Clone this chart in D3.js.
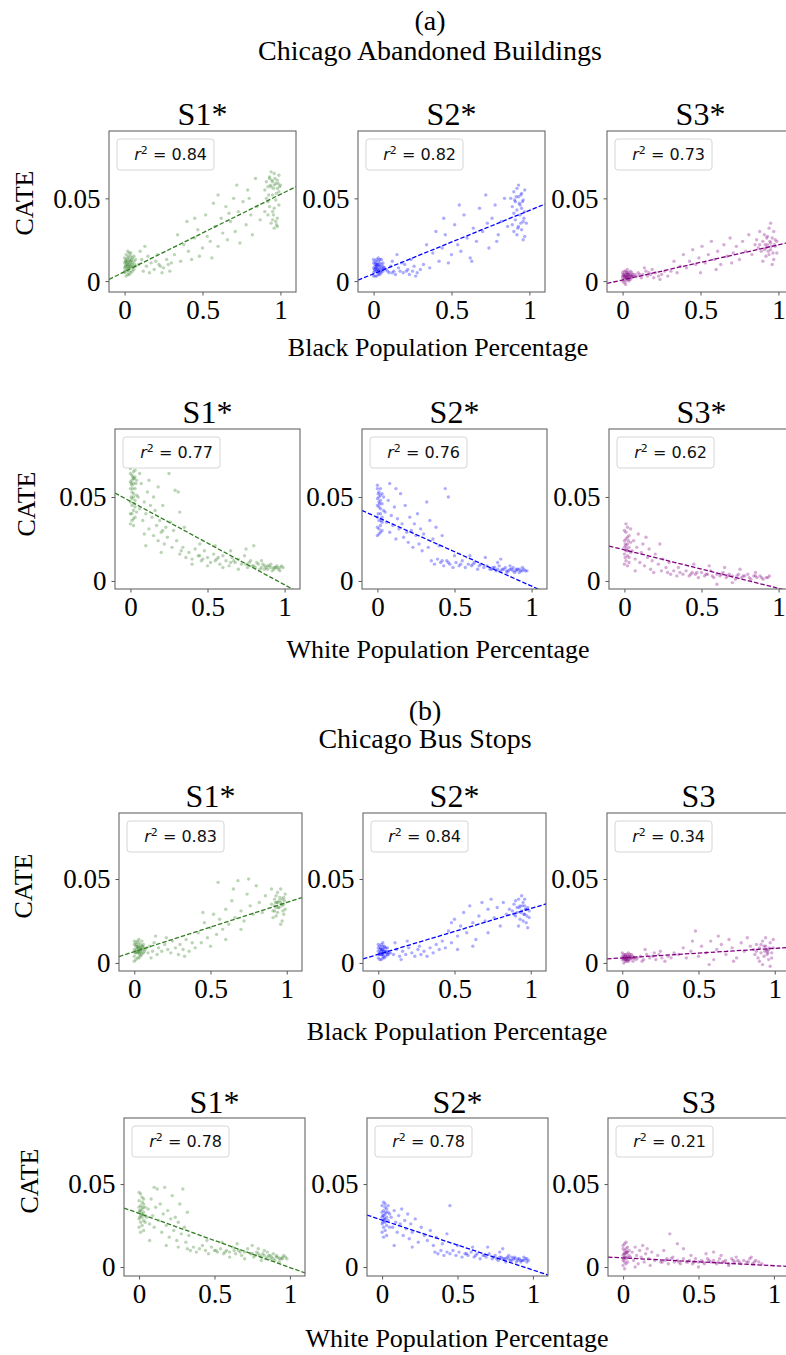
<!DOCTYPE html>
<html><head><meta charset="utf-8">
<script src="https://cdn.jsdelivr.net/npm/d3@7"></script>
<style>body{margin:0;background:#fff}svg{display:block}</style>
</head><body><svg id="c" width="786" height="1355"></svg>
<script>
// ---------------- DATA ----------------
const groupTitles = [["(a)", "Chicago Abandoned Buildings"], ["(b)", "Chicago Bus Stops"]];
const xLabels = ["Black Population Percentage", "White Population Percentage", "Black Population Percentage", "White Population Percentage"];
const yLabel = "CATE";
const panelTitles = [["S1*", "S2*", "S3*"], ["S1*", "S2*", "S3*"], ["S1*", "S2*", "S3"], ["S1*", "S2*", "S3"]];
const r2Values = [["0.84", "0.82", "0.73"], ["0.77", "0.76", "0.62"], ["0.83", "0.84", "0.34"], ["0.78", "0.78", "0.21"]];
const xTicks = [0, 0.5, 1];
const xTickLabels = ["0", "0.5", "1"];
const yTicks = [0, 0.05];
const yTickLabels = ["0", "0.05"];
// fitted lines [slope, intercept]
const fitLines = [
  [[0.0467, 0.0057], [0.0383, 0.0044], [0.0212, 0.0007]],
  [[-0.0497, 0.0474], [-0.041, 0.0379], [-0.0229, 0.0185]],
  [[0.0293, 0.0067], [0.0273, 0.0051], [0.0057, 0.003]],
  [[-0.0326, 0.0323], [-0.0301, 0.0283], [-0.0047, 0.0055]]
];
const seriesColors = ["#2f7d20", "#0000ff", "#800080"];

// Abandoned buildings, black %
const abBlackS1 = [[.01,.009],[.02,.012],[.00,.006],[.03,.010],[.04,.015],[.01,.016],[.02,.004],[.05,.008],[.03,.013],[.00,.011],[.06,.012],[.02,.007],[.04,.005],[.01,.013],[.03,.017],[.05,.011],[.00,.008],[.02,.010],[.07,.009],[.04,.012],[.01,.003],[.03,.008],[.06,.015],[.02,.014],[.00,.014],[.05,.006],[.03,.004],[.01,.010],[.04,.009],[.02,.018],[.06,.007],[.00,.005],[.03,.011],[.05,.014],[.01,.007],[.04,.017],[.02,.009],[.07,.013],[.03,.006],[.01,.012],
[.015,.011],[.025,.008],[.035,.012],[.045,.010],[.005,.009],[.055,.009],[.035,.009],[.015,.006],[.025,.015],[.045,.013],[.065,.010],[.005,.012],
[.09,.010],[.11,.013],[.12,.006],[.14,.009],[.15,.015],[.17,.011],[.19,.007],[.2,.012],[.22,.010],[.24,.005],[.25,.008],[.27,.013],[.29,.006],[.1,.018],[.13,.021],[.16,.005],[.21,.016],[.23,.009],[.28,.010],[.3,.011],
[.32,.016],[.34,.028],[.36,.012],[.38,.022],[.4,.036],[.41,.018],[.43,.013],[.45,.026],[.47,.031],[.48,.015],[.5,.020],[.52,.040],[.53,.027],[.55,.024],[.57,.047],[.58,.033],[.6,.021],[.62,.038],[.63,.029],[.65,.045],[.66,.025],[.68,.036],[.7,.050],[.71,.030],[.73,.042],[.74,.023],[.76,.048],[.78,.034],[.79,.055],[.81,.040],[.82,.028],[.84,.062],[.85,.045],[.87,.037],[.72,.058],[.6,.052],[.45,.038],[.56,.014],[.8,.050],[.67,.041],
[.9,.055],[.91,.060],[.92,.048],[.93,.063],[.94,.057],[.95,.052],[.96,.065],[.97,.059],[.98,.061],[.99,.054],[.92,.040],[.94,.035],[.96,.032],[.98,.038],[.93,.045],[.95,.042],[.97,.036],[.99,.046],[.91,.050],[.94,.066],[.96,.058],[.98,.056],[.93,.062],[.95,.060],[.97,.049],[.99,.064],[.92,.057],[.96,.044],[.98,.033],[1.0,.058],[.9,.042],[.95,.037],
[.935,.058],[.945,.061],[.955,.056],[.965,.062],[.975,.053],[.985,.059],[.925,.052],[.995,.057],[.955,.040],[.975,.034]];
const abBlackS2 = [[.01,.007],[.02,.009],[.00,.005],[.03,.006],[.04,.011],[.01,.012],[.02,.003],[.05,.008],[.03,.010],[.00,.008],[.06,.006],[.02,.013],[.04,.004],[.01,.010],[.03,.014],[.05,.005],[.00,.011],[.02,.006],[.07,.008],[.04,.009],[.01,.003],[.03,.007],[.06,.011],[.02,.010],[.00,.013],[.05,.010],[.03,.004],[.01,.006],[.04,.007],[.02,.008],[.06,.009],[.00,.003],[.03,.012],[.05,.013],[.01,.009],[.04,.013],
[.015,.008],[.025,.007],[.035,.009],[.045,.006],[.005,.007],[.055,.007],[.035,.005],[.015,.011],[.025,.010],[.065,.008],[.09,.006],[.12,.005],[.21,.006],
[.08,.007],[.1,.005],[.11,.009],[.13,.006],[.14,.004],[.16,.008],[.17,.006],[.19,.005],[.2,.010],[.22,.007],[.23,.004],[.25,.006],[.26,.009],[.28,.005],[.3,.007],[.12,.012],[.18,.011],[.24,.013],[.27,.003],[.15,.016],
[.32,.010],[.34,.022],[.36,.008],[.38,.017],[.4,.030],[.42,.012],[.44,.020],[.46,.028],[.48,.011],[.5,.016],[.52,.034],[.54,.022],[.56,.018],[.58,.040],[.6,.026],[.62,.014],[.64,.032],[.66,.024],[.68,.044],[.7,.030],[.72,.052],[.74,.020],[.76,.038],[.78,.046],[.8,.028],[.82,.036],[.84,.050],[.86,.033],[.55,.046],[.45,.038],[.63,.012],[.73,.035],[.79,.024],
[.88,.050],[.89,.045],[.9,.054],[.91,.048],[.92,.056],[.93,.051],[.94,.046],[.95,.053],[.96,.049],[.97,.055],[.89,.034],[.9,.030],[.91,.037],[.92,.028],[.93,.033],[.94,.040],[.95,.031],[.96,.036],[.97,.027],[.98,.035],[.92,.043],[.95,.044],[.9,.041],[.97,.042],[.93,.058],[.96,.025],
[.915,.051],[.935,.047],[.945,.052],[.955,.048],[.925,.032],[.945,.035],[.965,.038],[.905,.049]];
const abBlackS3 = [[.01,.003],[.02,.004],[.00,.002],[.03,.001],[.04,.005],[.01,.006],[.02,.000],[.05,.003],[.03,.004],[.00,.005],[.06,.002],[.02,.006],[.04,.001],[.01,.001],[.03,.007],[.05,.004],[.00,.003],[.02,.002],[.07,.003],[.04,.004],[.01,-.001],[.03,.002],[.06,.005],[.02,.003],[.00,.000],[.05,.001],[.03,.005],[.01,.004],[.04,.003],[.08,.004],[.06,.003],[.02,-.002],[.03,.003],[.05,.006],
[.015,.003],[.025,.002],[.035,.004],[.045,.002],[.005,.004],[.055,.003],[.035,.002],[.015,.002],[.025,.005],[.065,.004],[.04,.000],
[.09,.003],[.1,.005],[.12,.002],[.13,.004],[.15,.006],[.16,.003],[.18,.004],[.2,.002],[.21,.005],[.23,.003],[.25,.004],[.27,.006],[.29,.003],[.14,.008],[.19,.007],[.24,.001],[.11,.004],[.17,.005],
[.31,.006],[.33,.012],[.35,.005],[.37,.009],[.39,.016],[.41,.008],[.43,.012],[.45,.019],[.47,.010],[.49,.014],[.51,.021],[.53,.011],[.55,.016],[.57,.024],[.59,.013],[.61,.018],[.63,.010],[.65,.022],[.67,.015],[.69,.026],[.71,.017],[.73,.021],[.75,.013],[.77,.024],[.79,.018],[.81,.028],[.83,.016],[.85,.022],[.6,.007],[.5,.005],[.7,.011],
[.86,.025],[.87,.020],[.88,.030],[.89,.018],[.9,.024],[.91,.028],[.92,.015],[.93,.022],[.94,.032],[.95,.019],[.96,.026],[.97,.013],[.98,.021],[.99,.017],[.9,.012],[.93,.027],[.95,.023],[.97,.030],[.92,.020],[.94,.016],[.96,.010],[.98,.025],[.88,.022],[.91,.019],[.99,.024],[.95,.035],
[.915,.022],[.935,.018],[.945,.024],[.955,.021],[.925,.026],[.965,.017],[.975,.022]];

// Abandoned buildings, white %
const abWhiteS1 = [[.00,.055],[.01,.060],[.02,.050],[.00,.064],[.01,.045],[.02,.058],[.03,.062],[.00,.040],[.01,.036],[.02,.052],[.03,.048],[.00,.067],[.01,.057],[.02,.042],[.03,.038],[.00,.034],[.01,.053],[.02,.065],[.03,.055],[.04,.060],[.00,.047],[.01,.063],[.02,.037],[.03,.044],[.04,.051],[.01,.040],[.02,.061],[.00,.059],[.03,.066],[.04,.041],[.01,.049],[.02,.033],
[.005,.058],[.015,.055],[.025,.061],[.005,.050],[.015,.062],[.025,.046],[.035,.058],
[.05,.050],[.06,.043],[.07,.058],[.08,.036],[.09,.047],[.1,.040],[.11,.053],[.12,.031],[.13,.045],[.14,.038],[.15,.027],[.16,.042],[.17,.033],[.18,.024],[.19,.036],[.2,.029],[.21,.045],[.22,.022],[.23,.032],[.24,.026],[.25,.064],[.26,.035],[.27,.020],[.28,.030],[.29,.054],[.3,.024],[.31,.053],[.32,.041],[.33,.018],[.06,.064],[.09,.028],[.12,.060],[.15,.050],[.18,.056],[.21,.030],[.1,.021],[.35,.032],[.2,.017],
[.32,.016],[.34,.020],[.36,.014],[.38,.017],[.4,.013],[.42,.019],[.44,.015],[.46,.012],[.48,.018],[.5,.014],[.52,.011],[.54,.016],[.56,.013],[.58,.010],[.6,.015],[.62,.012],[.64,.009],[.66,.014],[.68,.011],[.7,.013],[.72,.010],[.74,.015],[.76,.008],[.78,.012],[.8,.009],[.82,.011],[.84,.007],[.86,.010],[.88,.008],[.9,.009],[.92,.006],[.94,.008],[.96,.007],[.98,.009],[.85,.012],[.89,.007],[.91,.010],[.93,.008],[.95,.009],[.97,.006],[.99,.008],[.87,.009],[.8,.021],[.75,.019],[.65,.018],[.55,.021],[.45,.022],[.7,.007],[.6,.008],[.5,.009],[.4,.010],
[.75,.010],[.77,.011],[.79,.009],[.81,.008],[.83,.010],[.85,.008],[.87,.007],[.89,.009],[.91,.008],[.93,.007],[.95,.008],[.97,.008],[.55,.012],[.57,.014],[.45,.015],[.47,.013],[.65,.011],[.67,.012]];
const abWhiteS2 = [[.00,.045],[.01,.050],[.02,.040],[.00,.055],[.01,.036],[.02,.048],[.03,.052],[.00,.032],[.01,.028],[.02,.043],[.03,.038],[.00,.057],[.01,.047],[.02,.033],[.03,.030],[.00,.027],[.01,.044],[.02,.055],[.03,.046],[.04,.050],[.00,.038],[.01,.053],[.02,.029],[.03,.035],[.04,.042],[.01,.031],[.02,.051],[.00,.049],
[.005,.040],[.015,.046],[.025,.036],[.005,.052],
[.05,.041],[.06,.035],[.07,.048],[.08,.029],[.09,.039],[.1,.033],[.11,.044],[.12,.025],[.13,.037],[.14,.031],[.15,.052],[.16,.034],[.17,.026],[.18,.045],[.19,.029],[.2,.023],[.21,.038],[.22,.030],[.23,.020],[.24,.034],[.25,.027],[.26,.040],[.27,.022],[.28,.031],[.29,.018],[.3,.028],[.32,.047],[.34,.036],[.36,.025],[.38,.032],[.4,.021],[.42,.027],[.44,.055],[.46,.050],[.08,.058],[.12,.055],[.33,.020],
[.35,.012],[.37,.010],[.39,.013],[.41,.011],[.43,.009],[.45,.012],[.47,.010],[.49,.008],[.51,.011],[.53,.009],[.55,.012],[.57,.008],[.59,.010],[.61,.009],[.63,.011],[.65,.007],[.67,.010],[.69,.008],[.71,.009],[.73,.007],[.75,.008],[.77,.006],[.79,.009],[.81,.007],[.83,.008],[.85,.006],[.87,.007],[.89,.005],[.91,.007],[.93,.006],[.95,.007],[.97,.006],[.84,.005],[.88,.008],[.92,.005],[.8,.013],[.7,.014],[.6,.015],[.5,.015],[.9,.006],[.94,.008],[.86,.009],[.78,.011],
[.74,.007],[.76,.008],[.78,.007],[.8,.006],[.82,.007],[.84,.006],[.86,.007],[.88,.006],[.9,.007],[.92,.007],[.94,.006],[.96,.006],[.62,.010],[.66,.009],[.46,.011],[.54,.010],[.42,.012]];
const abWhiteS3 = [[.00,.020],[.01,.025],[.02,.015],[.00,.030],[.01,.012],[.02,.022],[.03,.027],[.00,.010],[.01,.018],[.02,.032],[.03,.014],[.00,.024],[.01,.029],[.02,.009],[.03,.020],[.04,.017],[.00,.016],[.01,.034],[.02,.026],[.03,.011],[.04,.023],[.01,.021],[.02,.018],
[.005,.022],[.015,.019],[.025,.024],[.005,.014],
[.05,.018],[.06,.024],[.07,.013],[.08,.020],[.09,.028],[.1,.011],[.11,.017],[.12,.022],[.13,.009],[.14,.026],[.15,.014],[.16,.019],[.17,.007],[.18,.012],[.2,.016],[.22,.010],[.23,.022],[.25,.013],[.27,.008],[.29,.011],[.24,.006],[.19,.005],[.07,.006],[.04,.031],
[.28,.005],[.3,.004],[.32,.006],[.34,.003],[.36,.005],[.38,.004],[.4,.006],[.42,.003],[.44,.005],[.46,.004],[.48,.002],[.5,.005],[.52,.003],[.54,.004],[.56,.006],[.58,.002],[.6,.004],[.62,.003],[.64,.005],[.66,.002],[.68,.004],[.7,.003],[.72,.001],[.74,.004],[.76,.002],[.78,.003],[.8,.004],[.82,.001],[.84,.003],[.86,.002],[.88,.003],[.9,.001],[.92,.002],[.94,.003],[.55,.009],[.65,.008],[.75,.007],[.45,.010],[.35,.008],[.6,-.002],[.7,-.001],[.85,.005],
[.73,.003],[.77,.003],[.81,.002],[.85,.003],[.89,.002],[.93,.002],[.53,.004],[.57,.003],[.63,.004],[.67,.003],[.43,.004],[.47,.005]];

// Bus stops, black %
const busBlackS1 = [[.01,.007],[.02,.009],[.00,.004],[.03,.006],[.04,.011],[.01,.012],[.02,.003],[.05,.008],[.03,.010],[.00,.008],[.06,.006],[.02,.013],[.04,.004],[.01,.010],[.03,.014],[.05,.005],[.00,.011],[.02,.006],[.07,.008],[.04,.009],[.01,.002],[.03,.007],[.06,.011],[.02,.010],[.00,.013],[.05,.010],[.03,.003],[.01,.006],[.04,.007],[.06,.009],[.00,.001],[.03,.012],[.05,.013],[.08,.009],
[.015,.008],[.025,.007],[.035,.009],[.045,.008],[.005,.006],[.055,.010],[.035,.005],[.015,.011],[.025,.009],[.065,.007],[.045,.006],
[.09,.006],[.1,.010],[.12,.007],[.13,.012],[.15,.005],[.16,.009],[.18,.007],[.2,.011],[.22,.008],[.24,.006],[.25,.013],[.27,.009],[.29,.005],[.3,.011],[.32,.008],[.34,.014],[.36,.007],[.38,.012],[.4,.009],[.14,.016],[.21,.015],[.33,.004],[.11,.003],
[.42,.018],[.44,.012],[.46,.024],[.48,.015],[.5,.021],[.52,.029],[.54,.017],[.56,.026],[.58,.020],[.6,.032],[.62,.023],[.64,.037],[.66,.027],[.68,.049],[.7,.031],[.72,.025],[.74,.041],[.76,.034],[.78,.029],[.8,.046],[.82,.036],[.84,.030],[.86,.040],[.55,.048],[.65,.044],[.75,.050],[.45,.030],[.6,.014],[.7,.020],[.5,.010],
[.9,.035],[.91,.031],[.92,.038],[.93,.028],[.94,.042],[.95,.033],[.96,.036],[.97,.025],[.98,.039],[.99,.032],[.9,.044],[.91,.027],[.92,.034],[.93,.040],[.94,.030],[.95,.037],[.96,.023],[.97,.034],[.98,.029],[.99,.041],[.92,.031],[.94,.036],[.96,.044],[.98,.035],[.93,.033],[.97,.038],
[.935,.036],[.945,.033],[.955,.039],[.965,.035],[.925,.036],[.975,.031],[.985,.037]];
const busBlackS2 = [[.01,.006],[.02,.008],[.00,.003],[.03,.005],[.04,.009],[.01,.010],[.02,.002],[.05,.007],[.03,.008],[.00,.007],[.06,.005],[.02,.011],[.04,.003],[.01,.008],[.03,.010],[.05,.004],[.00,.009],[.02,.005],[.07,.006],[.04,.007],[.01,.002],[.03,.006],[.06,.009],[.02,.007],[.00,.011],[.05,.009],[.03,.003],[.01,.005],[.04,.010],[.06,.007],[.08,.006],[.03,.012],
[.015,.006],[.025,.005],[.035,.007],[.045,.006],[.005,.005],[.055,.006],[.035,.004],[.015,.009],[.025,.008],[.065,.005],
[.1,.005],[.12,.008],[.14,.004],[.16,.007],[.18,.005],[.2,.009],[.22,.006],[.24,.004],[.26,.008],[.28,.005],[.3,.007],[.32,.004],[.34,.009],[.36,.006],[.38,.011],[.4,.008],[.11,.012],[.19,.013],[.27,.010],[.15,.002],
[.42,.013],[.44,.009],[.46,.019],[.48,.012],[.5,.026],[.52,.016],[.54,.022],[.56,.030],[.58,.018],[.6,.034],[.62,.024],[.64,.014],[.66,.028],[.68,.036],[.7,.025],[.72,.032],[.74,.038],[.76,.027],[.78,.033],[.8,.022],[.82,.036],[.84,.029],[.86,.032],[.52,.008],[.48,.024],[.62,.010],[.72,.018],
[.88,.031],[.89,.035],[.9,.028],[.91,.033],[.92,.038],[.93,.026],[.94,.031],[.95,.036],[.96,.029],[.97,.024],[.98,.033],[.99,.027],[.9,.037],[.92,.022],[.94,.040],[.96,.034],[.98,.021],[.91,.030],[.93,.034],[.95,.025],[.97,.032],[.89,.029],[.96,.038],[.99,.031],
[.935,.030],[.945,.034],[.955,.029],[.965,.032],[.925,.033],[.975,.028]];
const busBlackS3 = [[.01,.003],[.02,.002],[.00,.004],[.03,.003],[.04,.001],[.01,.005],[.02,.004],[.05,.002],[.03,.005],[.00,.002],[.06,.003],[.02,.001],[.04,.004],[.01,.002],[.03,.003],[.05,.005],[.00,.006],[.02,.003],[.07,.004],[.04,.002],[.01,.000],[.03,.001],[.06,.005],[.08,.003],[.09,.002],[.05,.004],[.07,.001],[.1,.003],[.02,.005],[.04,.006],
[.015,.003],[.025,.003],[.035,.002],[.045,.003],[.005,.003],[.055,.003],[.035,.004],[.015,.004],[.025,.002],[.065,.003],[.075,.003],
[.12,.004],[.14,.002],[.16,.005],[.18,.003],[.2,.004],[.22,.002],[.24,.005],[.26,.003],[.28,.001],[.3,.004],[.32,.003],[.34,.006],[.15,.008],[.25,.007],[.13,.001],[.21,.006],
[.37,.005],[.4,.009],[.42,.003],[.45,.007],[.48,.019],[.5,.004],[.52,.010],[.55,.006],[.58,.013],[.6,.002],[.62,.008],[.65,.011],[.68,.005],[.7,.014],[.72,.009],[.75,.003],[.78,.012],[.8,.007],[.82,.015],[.84,.010],[.46,.013],[.63,.016],[.57,-.001],[.73,.001],
[.86,.008],[.87,.005],[.88,.011],[.89,.003],[.9,.009],[.91,.006],[.92,.013],[.93,.004],[.94,.010],[.95,.007],[.96,.002],[.97,.012],[.98,.006],[.99,.009],[.9,.001],[.92,-.001],[.94,.015],[.96,.008],[.98,.003],[.88,.007],[.93,.010],[.95,.005],[.97,-.002],[.99,.014],[.91,.011],
[.935,.007],[.945,.008],[.955,.006],[.965,.009]];

// Bus stops, white %
const busWhiteS1 = [[.00,.033],[.01,.037],[.02,.030],[.00,.040],[.01,.027],[.02,.035],[.03,.038],[.00,.024],[.01,.031],[.02,.042],[.03,.028],[.00,.036],[.01,.044],[.02,.025],[.03,.033],[.04,.036],[.00,.029],[.01,.034],[.02,.039],[.03,.022],[.04,.031],[.01,.021],[.02,.032],[.00,.045],[.03,.041],[.04,.027],
[.005,.034],[.015,.032],[.025,.036],[.005,.030],
[.05,.030],[.06,.035],[.07,.026],[.08,.041],[.09,.031],[.1,.024],[.11,.036],[.12,.047],[.13,.028],[.14,.038],[.15,.021],[.16,.032],[.17,.048],[.18,.025],[.19,.034],[.2,.018],[.21,.029],[.22,.043],[.23,.022],[.24,.030],[.25,.016],[.26,.027],[.27,.038],[.28,.020],[.29,.047],[.3,.024],[.31,.015],[.32,.033],[.33,.019],[.1,.048],[.07,.016],[.18,.013],[.26,.012],
[.32,.011],[.34,.010],[.36,.012],[.38,.009],[.4,.011],[.42,.013],[.44,.010],[.46,.008],[.48,.012],[.5,.010],[.52,.009],[.54,.011],[.56,.008],[.58,.010],[.6,.009],[.62,.012],[.64,.008],[.66,.010],[.68,.007],[.7,.009],[.72,.011],[.74,.008],[.76,.006],[.78,.009],[.8,.007],[.82,.008],[.84,.005],[.86,.007],[.88,.006],[.9,.004],[.92,.006],[.94,.005],[.96,.007],[.98,.005],[.81,.004],[.85,.009],[.89,.008],[.93,.003],[.95,.006],[.87,.005],[.91,.007],[.75,.013],[.65,.014],[.55,.015],[.45,.016],[.7,.005],[.6,.006],[.79,.011],[.83,.010],
[.75,.008],[.77,.007],[.79,.008],[.81,.006],[.83,.007],[.85,.006],[.87,.007],[.89,.005],[.91,.006],[.93,.005],[.95,.005],[.97,.006],[.51,.010],[.57,.009],[.63,.010],[.67,.009]];
const busWhiteS2 = [[.00,.030],[.01,.034],[.02,.027],[.00,.037],[.01,.024],[.02,.032],[.03,.035],[.00,.021],[.01,.028],[.02,.038],[.03,.025],[.00,.033],[.01,.039],[.02,.022],[.03,.030],[.04,.033],[.00,.026],[.01,.031],[.02,.036],[.03,.019],[.04,.028],[.05,.024],[.05,.032],[.01,.018],[.04,.037],[.02,.029],
[.005,.031],[.015,.029],[.025,.033],[.005,.027],
[.06,.030],[.07,.024],[.08,.034],[.09,.027],[.1,.021],[.11,.031],[.12,.026],[.13,.035],[.14,.019],[.15,.028],[.16,.023],[.17,.032],[.18,.017],[.19,.026],[.2,.021],[.22,.029],[.24,.015],[.26,.024],[.28,.019],[.3,.016],[.32,.022],[.34,.013],[.36,.018],[.4,.014],[.45,.037],[.43,.020],[.08,.013],[.2,.012],
[.35,.009],[.37,.008],[.39,.010],[.41,.007],[.43,.009],[.45,.008],[.47,.010],[.49,.007],[.51,.009],[.53,.006],[.55,.008],[.57,.007],[.59,.009],[.61,.006],[.63,.008],[.65,.005],[.67,.007],[.69,.006],[.71,.008],[.73,.005],[.75,.007],[.77,.004],[.79,.006],[.81,.005],[.83,.006],[.85,.004],[.87,.005],[.89,.003],[.91,.005],[.93,.004],[.95,.005],[.97,.004],[.84,.007],[.88,.006],[.92,.003],[.8,.011],[.7,.012],[.6,.012],[.5,.013],[.9,.004],[.94,.006],[.86,.006],[.78,.009],[.82,.003],[.96,.003],
[.74,.006],[.76,.005],[.78,.006],[.8,.005],[.82,.005],[.84,.005],[.86,.004],[.88,.005],[.9,.005],[.92,.004],[.94,.004],[.96,.005],[.56,.008],[.62,.007],[.68,.007]];
const busWhiteS3 = [[.00,.007],[.01,.010],[.02,.005],[.00,.013],[.01,.003],[.02,.009],[.03,.012],[.00,.001],[.01,.008],[.02,.015],[.03,.006],[.00,.011],[.01,.014],[.02,.002],[.03,.009],[.04,.007],[.00,.004],[.01,-.001],[.02,.011],[.03,.003],[.04,.010],[.05,.006],[.01,.006],[.02,.008],
[.005,.008],[.015,.006],[.025,.009],[.005,.005],
[.06,.009],[.07,.004],[.08,.012],[.09,.007],[.1,.002],[.11,.010],[.12,.006],[.13,.013],[.14,.003],[.15,.008],[.16,.011],[.17,.005],[.19,.009],[.21,.004],[.23,.007],[.25,.003],[.27,.010],[.29,.005],[.31,.020],[.33,.006],[.36,.014],[.08,.000],[.18,.001],
[.26,.003],[.28,.004],[.3,.002],[.32,.005],[.34,.003],[.36,.004],[.38,.002],[.4,.005],[.42,.003],[.44,.004],[.46,.002],[.48,.005],[.5,.003],[.52,.004],[.54,.002],[.56,.005],[.58,.003],[.6,.004],[.62,.002],[.64,.005],[.66,.003],[.68,.004],[.7,.002],[.72,.005],[.74,.003],[.76,.004],[.78,.002],[.8,.004],[.82,.003],[.84,.005],[.86,.002],[.88,.004],[.9,.003],[.92,.002],[.45,.007],[.55,.008],[.65,.007],[.75,.006],[.85,.006],[.5,.000],[.7,.001],[.6,.009],[.4,.011],
[.53,.003],[.57,.004],[.63,.003],[.67,.003],[.73,.004],[.77,.003],[.83,.003],[.87,.003],[.43,.003],[.47,.003],[.37,.003]];

const panelData = [
  [abBlackS1, abBlackS2, abBlackS3],
  [abWhiteS1, abWhiteS2, abWhiteS3],
  [busBlackS1, busBlackS2, busBlackS3],
  [busWhiteS1, busWhiteS2, busWhiteS3]
];

// ---------------- LAYOUT ----------------
const rows = [
  {top:131, h:161, lefts:[109,358,607], w:187, yDom:[-0.0066,0.0907], tBase:125, xlBase:356, xlX:438, cX:33, cY:203},
  {top:429, h:160, lefts:[115,362,609], w:185, yDom:[-0.0048,0.0905], tBase:423, xlBase:658, xlX:438, cX:35, cY:504},
  {top:813, h:158, lefts:[119,363,607], w:183, yDom:[-0.0048,0.0893], tBase:807, xlBase:1040, xlX:457, cX:32, cY:886},
  {top:1118, h:158, lefts:[124,367,608], w:181, yDom:[-0.0054,0.0898], tBase:1113, xlBase:1347, xlX:457, cX:38, cY:1181}
];
const headerPos = [{x:430, y1:30, y2:60}, {x:425, y1:720, y2:748}];
const SERIF = "'Liberation Serif','Times New Roman',serif";
const SANS = "'DejaVu Sans',sans-serif";

const svg = d3.select("#c");
svg.append("rect").attr("width",786).attr("height",1355).attr("fill","#fff");

groupTitles.forEach((g,i)=>{
  const p = headerPos[i];
  svg.append("text").attr("x",p.x).attr("y",p.y1).attr("text-anchor","middle")
    .attr("font-family",SERIF).attr("font-size",28).attr("fill","#000").text(g[0]);
  svg.append("text").attr("x",p.x).attr("y",p.y2).attr("text-anchor","middle")
    .attr("font-family",SERIF).attr("font-size",28).attr("fill","#000").text(g[1]);
});

const defs = svg.append("defs");
rows.forEach((R, ri)=>{
  svg.append("text").attr("transform",`translate(${R.cX},${R.cY}) rotate(-90)`)
    .attr("text-anchor","middle").attr("font-family",SERIF).attr("font-size",26).text(yLabel);
  svg.append("text").attr("x",R.xlX).attr("y",R.xlBase).attr("text-anchor","middle")
    .attr("font-family",SERIF).attr("font-size",26).text(xLabels[ri]);

  R.lefts.forEach((L, ci)=>{
    const x = d3.scaleLinear().domain([-0.1,1.1]).range([L, L+R.w]);
    const y = d3.scaleLinear().domain(R.yDom).range([R.top+R.h, R.top]);
    const g = svg.append("g");
    const cid = `clip${ri}_${ci}`;
    defs.append("clipPath").attr("id",cid).append("rect")
      .attr("x",L).attr("y",R.top).attr("width",R.w).attr("height",R.h);
    const color = seriesColors[ci];
    const plot = g.append("g").attr("clip-path",`url(#${cid})`);
    plot.selectAll("circle").data(panelData[ri][ci]).enter().append("circle")
      .attr("cx",d=>x(d[0])).attr("cy",d=>y(d[1])).attr("r",1.7)
      .attr("fill",color).attr("fill-opacity",0.32);
    const [m,b] = fitLines[ri][ci];
    const lineGen = d3.line().x(d=>x(d)).y(d=>y(m*d+b));
    plot.append("path").datum([-0.1,1.1]).attr("d",lineGen)
      .attr("fill","none").attr("stroke",color).attr("stroke-width",1.3)
      .attr("stroke-dasharray","4.5,2");
    const xAxis = d3.axisBottom(x).tickValues(xTicks).tickFormat((d,i)=>xTickLabels[i]).tickSize(3.5).tickPadding(6);
    const yAxis = d3.axisLeft(y).tickValues(yTicks).tickFormat((d,i)=>yTickLabels[i]).tickSize(3.5).tickPadding(5);
    const gx = g.append("g").attr("transform",`translate(0,${R.top+R.h})`).call(xAxis);
    const gy = g.append("g").attr("transform",`translate(${L},0)`).call(yAxis);
    [gx,gy].forEach(a=>{
      a.select(".domain").remove();
      a.selectAll(".tick line").attr("stroke","#444").attr("stroke-width",0.9);
      a.selectAll(".tick text").attr("font-family",SERIF).attr("font-size",27).attr("fill","#000");
    });
    gx.selectAll(".tick text").attr("dy",null).attr("y",27);
    gy.selectAll(".tick text").attr("dy","0.33em");
    g.append("rect").attr("x",L).attr("y",R.top).attr("width",R.w).attr("height",R.h)
      .attr("fill","none").attr("stroke","#666").attr("stroke-width",1.1);
    g.append("text").attr("x",L+R.w/2).attr("y",R.tBase).attr("text-anchor","middle")
      .attr("font-family",SERIF).attr("font-size",32).text(panelTitles[ri][ci]);
    const lx = L+8, ly = R.top+8, lw = 97, lh = 31;
    g.append("rect").attr("x",lx).attr("y",ly).attr("width",lw).attr("height",lh).attr("rx",3)
      .attr("fill","#fff").attr("fill-opacity",0.8).attr("stroke","#d6d6d6").attr("stroke-width",1);
    const t = g.append("text").attr("x",lx+lw-7).attr("y",ly+21).attr("text-anchor","end")
      .attr("font-family",SANS).attr("font-size",16).attr("fill","#111");
    t.append("tspan").attr("font-style","italic").text("r");
    t.append("tspan").attr("font-size",11).attr("dy",-6).text("2");
    t.append("tspan").attr("dy",6).text(" = " + r2Values[ri][ci]);
  });
});
</script></body></html>
